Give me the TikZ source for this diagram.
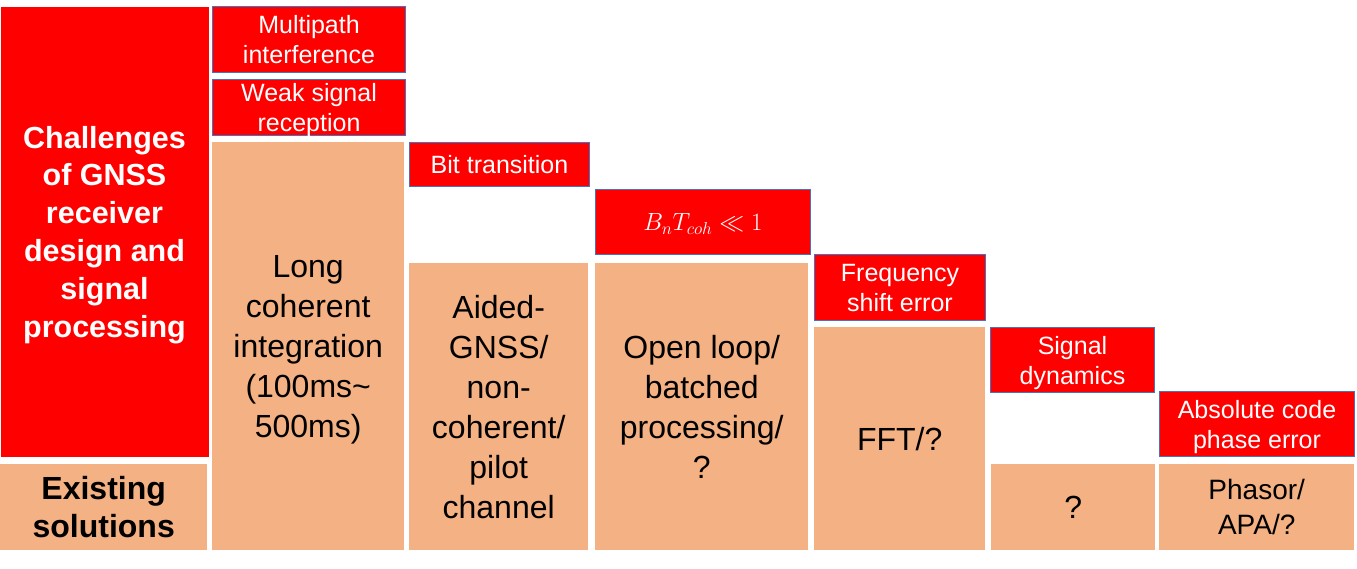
\documentclass[tikz,border=0pt]{standalone}
\usepackage{fontspec}
\setmainfont{Liberation Sans}
\usepackage{amsmath}
\usetikzlibrary{positioning}
\definecolor{chalred}{HTML}{FF0000}
\definecolor{solorange}{HTML}{F4B183}
\definecolor{edgeblue}{HTML}{4472C4}
\tikzset{
  chalbox/.style={anchor=north west, fill=chalred, draw=edgeblue, line width=1pt,
    inner sep=0pt, align=center, text=white, text depth=0pt, font=\fontsize{25}{30}\selectfont},
  solbox/.style={anchor=north west, fill=solorange, inner sep=0pt, align=center,
    text=black, text depth=0pt, font=\fontsize{32}{40}\selectfont},
}

\begin{document}
\begin{tikzpicture}[x=1pt, y=-1pt]
                \useasboundingbox (0,0) rectangle (1357,568);
                % left column
                \node[chalbox, draw=none, minimum width=208pt, minimum height=450pt,
                      font=\fontsize{30.5}{37.8}\selectfont\bfseries] (chal) at (0,6)
                      {Challenges\\of GNSS\\receiver\\design and\\signal\\processing};
                \node[solbox, minimum width=207pt, minimum height=86pt,
                      font=\fontsize{32}{38}\selectfont\bfseries] (exist) at (0,464)
                      {Existing\\solutions};
                % challenges
                \node[chalbox, minimum width=193pt, minimum height=66pt] (multipath) at (212,6) {Multipath\\interference};
                \node[chalbox, minimum width=193pt, minimum height=56pt] (weak) at (212,79) {Weak signal\\reception};
                \node[chalbox, minimum width=180pt, minimum height=44pt] (bittrans) at (409,142) {Bit transition};
                \node[chalbox, minimum width=215pt, minimum height=65pt] (bnt) at (595,189) {$B_nT_{coh}\ll 1$};
                \node[chalbox, minimum width=171pt, minimum height=66pt] (freq) at (814,254) {Frequency\\shift error};
                \node[chalbox, minimum width=164pt, minimum height=65pt] (sigdyn) at (990,327) {Signal\\dynamics};
                \node[chalbox, minimum width=195pt, minimum height=65pt] (abscode) at (1159,391) {Absolute code\\phase error};
                % solutions
                \node[solbox, minimum width=192pt, minimum height=408pt] (longint) at (212,142)
                      {Long\\coherent\\integration\\(100ms\textasciitilde\\500ms)};
                \node[solbox, minimum width=179pt, minimum height=287pt] (aided) at (409,263)
                      {Aided-\\GNSS/\\non-\\coherent/\\pilot\\channel};
                \node[solbox, minimum width=213pt, minimum height=287pt] (openloop) at (595,263)
                      {Open loop/\\batched\\processing/\\?};
                \node[solbox, minimum width=171pt, minimum height=223pt] (fft) at (814,327) {FFT/?};
                \node[solbox, minimum width=164pt, minimum height=86pt] (unknown) at (991,464) {?};
                \node[solbox, minimum width=195pt, minimum height=86pt,
                      font=\fontsize{28}{35}\selectfont] (phasor) at (1159,464) {Phasor/\\APA/?};
\end{tikzpicture}
\end{document}
